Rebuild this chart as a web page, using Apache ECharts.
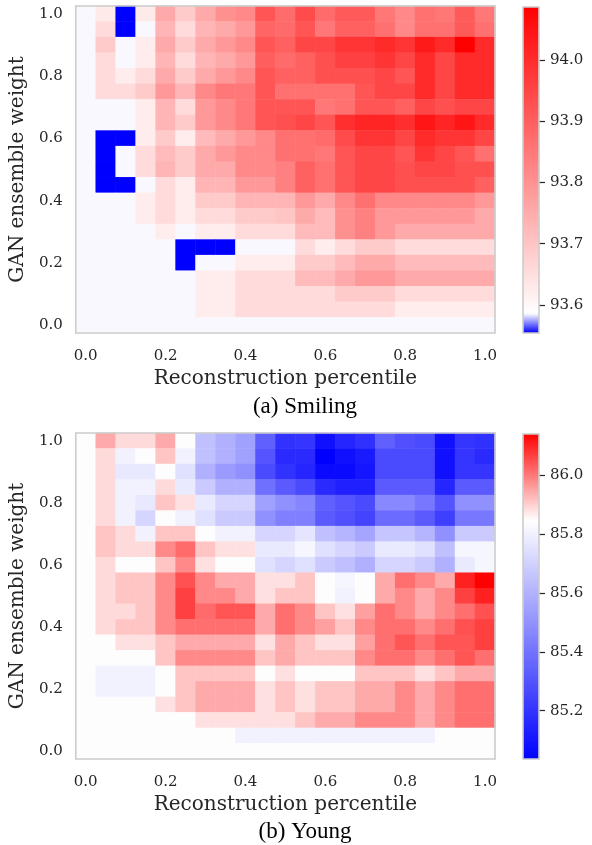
<!DOCTYPE html>
<html><head><meta charset="utf-8">
<script src="https://cdn.jsdelivr.net/npm/echarts@6/dist/echarts.min.js"></script>
<style>html,body{margin:0;padding:0;background:#fff}#c{width:592px;height:845px}</style>
</head><body><div id="c"></div>
<script>
// ---------------- data ----------------
const xCategories = ['0.00','0.05','0.10','0.15','0.20','0.25','0.30','0.35','0.40','0.45','0.50','0.55','0.60','0.65','0.70','0.75','0.80','0.85','0.90','0.95','1.00'];
const yCategories = ['0.00','0.05','0.10','0.15','0.20','0.25','0.30','0.35','0.40','0.45','0.50','0.55','0.60','0.65','0.70','0.75','0.80','0.85','0.90','0.95','1.00'];
const axisTickLabels = ['0.0','0.2','0.4','0.6','0.8','1.0'];

const smilingTicks = [93.6, 93.7, 93.8, 93.9, 94.0];
const smilingMin = 93.554, smilingCenter = 93.586, smilingMax = 94.087;
const youngTicks = [85.2, 85.4, 85.6, 85.8, 86.0];
const youngMin = 85.036, youngCenter = 85.845, youngMax = 86.140;

// rows listed from GAN weight 1.00 (top) down to 0.00 (bottom); columns = percentile 0.00..1.00
const smilingRows = [
 [93.586,93.628,93.554,93.628,93.753,93.690,93.753,93.804,93.820,93.920,93.875,93.941,93.879,93.910,93.910,93.853,93.820,93.867,93.853,93.910,93.853],
 [93.586,93.658,93.554,93.586,93.732,93.658,93.732,93.753,93.787,93.888,93.879,93.920,93.853,93.899,93.899,93.867,93.820,93.867,93.867,93.910,93.867],
 [93.586,93.690,93.586,93.620,93.753,93.690,93.753,93.787,93.820,93.920,93.899,93.951,93.951,93.983,93.983,94.005,93.983,94.035,94.005,94.087,94.005],
 [93.586,93.658,93.586,93.620,93.732,93.658,93.732,93.753,93.787,93.902,93.879,93.899,93.930,93.961,93.961,93.983,93.951,94.005,93.951,94.005,94.005],
 [93.586,93.658,93.620,93.658,93.753,93.690,93.753,93.787,93.820,93.920,93.899,93.899,93.930,93.930,93.930,93.951,93.920,94.005,93.951,94.005,94.005],
 [93.586,93.658,93.658,93.690,93.787,93.732,93.820,93.853,93.853,93.920,93.867,93.867,93.867,93.867,93.920,93.951,93.951,94.005,93.951,94.005,94.005],
 [93.586,93.586,93.586,93.620,93.732,93.658,93.787,93.820,93.853,93.920,93.920,93.920,93.853,93.867,93.920,93.920,93.899,93.951,93.930,93.951,93.951],
 [93.586,93.586,93.586,93.620,93.732,93.690,93.787,93.820,93.853,93.920,93.930,93.951,93.920,93.993,94.015,94.015,93.993,94.046,94.015,94.046,94.005],
 [93.586,93.554,93.554,93.620,93.690,93.620,93.720,93.753,93.787,93.820,93.867,93.867,93.879,93.941,93.983,93.983,93.951,94.005,93.983,93.983,93.951],
 [93.586,93.554,93.586,93.658,93.720,93.690,93.753,93.787,93.820,93.820,93.867,93.867,93.853,93.920,93.951,93.951,93.920,93.983,93.951,93.920,93.867],
 [93.586,93.554,93.586,93.658,93.732,93.690,93.753,93.753,93.820,93.820,93.836,93.899,93.867,93.920,93.951,93.951,93.930,93.951,93.951,93.930,93.930],
 [93.586,93.554,93.554,93.586,93.658,93.620,93.732,93.732,93.787,93.787,93.836,93.899,93.867,93.920,93.951,93.951,93.930,93.930,93.930,93.930,93.899],
 [93.586,93.586,93.586,93.620,93.658,93.620,93.690,93.690,93.732,93.732,93.732,93.787,93.753,93.820,93.867,93.820,93.820,93.820,93.820,93.820,93.787],
 [93.586,93.586,93.586,93.620,93.658,93.620,93.658,93.658,93.690,93.690,93.700,93.753,93.720,93.804,93.836,93.787,93.787,93.787,93.787,93.787,93.753],
 [93.586,93.586,93.586,93.586,93.620,93.586,93.620,93.620,93.658,93.658,93.658,93.720,93.720,93.804,93.836,93.787,93.753,93.753,93.753,93.753,93.753],
 [93.586,93.586,93.586,93.586,93.586,93.554,93.554,93.554,93.586,93.586,93.586,93.658,93.620,93.658,93.690,93.690,93.658,93.658,93.658,93.658,93.658],
 [93.586,93.586,93.586,93.586,93.586,93.554,93.586,93.586,93.620,93.620,93.620,93.690,93.690,93.720,93.753,93.753,93.720,93.720,93.720,93.720,93.720],
 [93.586,93.586,93.586,93.586,93.586,93.586,93.620,93.620,93.658,93.658,93.658,93.720,93.720,93.753,93.787,93.787,93.753,93.753,93.753,93.753,93.753],
 [93.586,93.586,93.586,93.586,93.586,93.586,93.620,93.620,93.658,93.658,93.658,93.658,93.658,93.690,93.690,93.690,93.658,93.658,93.658,93.658,93.658],
 [93.586,93.586,93.586,93.586,93.586,93.586,93.620,93.620,93.658,93.658,93.658,93.658,93.658,93.658,93.658,93.658,93.620,93.620,93.620,93.620,93.620],
 [93.586,93.586,93.586,93.586,93.586,93.586,93.586,93.586,93.586,93.586,93.586,93.586,93.586,93.586,93.586,93.586,93.586,93.586,93.586,93.586,93.586]
];

const youngRows = [
 [85.845,85.943,85.888,85.888,85.943,85.845,85.645,85.594,85.544,85.340,85.196,85.204,85.087,85.153,85.188,85.340,85.290,85.271,85.087,85.204,85.188],
 [85.845,85.888,85.804,85.845,85.912,85.804,85.645,85.594,85.544,85.306,85.169,85.169,85.036,85.087,85.118,85.271,85.271,85.271,85.087,85.204,85.169],
 [85.845,85.888,85.772,85.772,85.845,85.746,85.594,85.525,85.493,85.271,85.196,85.153,85.068,85.068,85.102,85.271,85.271,85.271,85.087,85.204,85.204],
 [85.845,85.888,85.804,85.804,85.888,85.779,85.677,85.594,85.594,85.391,85.322,85.271,85.169,85.137,85.137,85.322,85.322,85.322,85.153,85.322,85.322],
 [85.845,85.888,85.804,85.772,85.912,85.881,85.779,85.712,85.712,85.544,85.493,85.458,85.340,85.306,85.271,85.468,85.468,85.414,85.306,85.493,85.493],
 [85.845,85.888,85.804,85.712,85.845,85.804,85.746,85.677,85.677,85.493,85.441,85.441,85.322,85.290,85.252,85.373,85.373,85.322,85.236,85.414,85.414],
 [85.845,85.912,85.888,85.804,85.912,85.912,85.845,85.804,85.804,85.712,85.712,85.763,85.645,85.610,85.560,85.661,85.661,85.610,85.493,85.677,85.677],
 [85.845,85.912,85.888,85.888,85.983,86.017,85.912,85.881,85.881,85.779,85.779,85.814,85.746,85.712,85.677,85.779,85.779,85.746,85.645,85.814,85.814],
 [85.845,85.888,85.845,85.845,85.912,85.983,85.881,85.845,85.845,85.746,85.712,85.746,85.677,85.645,85.594,85.712,85.712,85.677,85.594,85.779,85.814],
 [85.845,85.888,85.912,85.912,85.983,86.047,85.983,85.943,85.943,85.881,85.881,85.912,85.845,85.814,85.845,85.943,86.011,85.983,85.943,86.103,86.140],
 [85.845,85.888,85.912,85.912,85.983,86.066,85.983,85.983,85.943,85.881,85.912,85.912,85.845,85.804,85.845,85.943,85.983,85.943,85.983,86.066,86.103],
 [85.845,85.888,85.888,85.912,85.983,86.066,86.017,86.042,86.042,85.943,86.011,85.983,85.912,85.881,85.955,86.011,85.983,85.943,85.983,86.011,86.047],
 [85.845,85.888,85.912,85.912,85.983,86.011,86.011,86.011,86.011,85.943,86.011,85.983,85.955,85.912,85.983,86.011,86.011,85.983,86.011,86.047,86.066],
 [85.845,85.845,85.881,85.881,85.912,85.943,85.943,85.943,85.943,85.881,85.943,85.912,85.881,85.881,85.955,86.011,86.042,86.011,86.042,86.042,86.066],
 [85.845,85.845,85.845,85.845,85.912,85.983,85.983,85.983,85.983,85.912,85.943,85.912,85.912,85.912,85.983,86.011,86.011,85.983,86.011,86.042,86.011],
 [85.845,85.804,85.804,85.804,85.845,85.912,85.912,85.912,85.912,85.845,85.881,85.845,85.845,85.845,85.912,85.912,85.912,85.881,85.912,85.943,85.943],
 [85.845,85.804,85.804,85.804,85.845,85.912,85.943,85.943,85.943,85.881,85.912,85.881,85.912,85.912,85.943,85.943,85.983,85.943,85.983,86.011,86.011],
 [85.845,85.845,85.845,85.845,85.881,85.912,85.943,85.943,85.943,85.881,85.912,85.881,85.912,85.912,85.943,85.943,85.983,85.943,85.983,86.011,86.011],
 [85.845,85.845,85.845,85.845,85.845,85.845,85.881,85.881,85.881,85.881,85.881,85.912,85.943,85.943,85.983,85.983,85.983,85.943,85.983,86.011,86.011],
 [85.845,85.845,85.845,85.845,85.845,85.845,85.845,85.845,85.804,85.804,85.804,85.804,85.804,85.804,85.804,85.804,85.804,85.804,85.845,85.845,85.845],
 [85.845,85.845,85.845,85.845,85.845,85.845,85.845,85.845,85.845,85.845,85.845,85.845,85.845,85.845,85.845,85.845,85.845,85.845,85.845,85.845,85.845]
];

// ---------------- styling helpers ----------------
const TXT = '#262626';
const SERIF = "'DejaVu Serif', serif";
const FRAME = '#cccccc';

function bwrAt(v, lo, mid, hi) {
  let t = v < mid ? 0.5 * (v - lo) / (mid - lo) : 0.5 + 0.5 * (v - mid) / (hi - mid);
  t = Math.max(0, Math.min(1, t));
  let r, g, b;
  if (t < 0.5) { r = g = Math.round(2 * t * 255); b = 255; }
  else { r = 255; g = b = Math.round((2 - 2 * t) * 255); }
  return 'rgb(' + r + ',' + g + ',' + b + ')';
}
function colorList(lo, mid, hi, n) {
  const out = [];
  for (let i = 0; i <= n; i++) out.push(bwrAt(lo + (hi - lo) * i / n, lo, mid, hi));
  return out;
}
function gradientStops(lo, mid, hi, n) {
  const out = [];
  for (let i = 0; i <= n; i++) out.push({ offset: i / n, color: bwrAt(lo + (hi - lo) * i / n, lo, mid, hi) });
  return out;
}
function toCells(rows) {
  const data = [];
  const n = rows.length;
  rows.forEach((row, r) => row.forEach((v, c) => data.push([c, n - 1 - r, v])));
  return data;
}

const chart = echarts.init(document.getElementById('c'), null, { renderer: 'canvas' });

const heatGrids = [
  { left: 75, top: 6, width: 420, height: 327 },
  { left: 75, top: 433, width: 420, height: 326 }
];
const cbGrids = [
  { left: 523, top: 7, width: 16, height: 326 },
  { left: 523, top: 434, width: 16, height: 325 }
];

function heatX(gi) {
  return {
    type: 'category', gridIndex: gi, data: xCategories, position: 'bottom',
    axisLine: { show: false }, axisTick: { show: false }, splitLine: { show: false },
    axisLabel: { interval: 3, margin: 16, fontSize: 15, fontFamily: SERIF, color: TXT,
      formatter: (v, i) => axisTickLabels[i / 4] },
    name: 'Reconstruction percentile', nameLocation: 'middle', nameGap: 36,
    nameTextStyle: { fontSize: 20, fontFamily: SERIF, color: TXT }
  };
}
function heatY(gi) {
  return {
    type: 'category', gridIndex: gi, data: yCategories, position: 'left',
    axisLine: { show: false }, axisTick: { show: false }, splitLine: { show: false },
    axisLabel: { interval: 3, margin: 13, fontSize: 15, fontFamily: SERIF, color: TXT,
      formatter: (v, i) => axisTickLabels[i / 4] },
    name: 'GAN ensemble weight', nameLocation: 'middle', nameGap: 46, nameRotate: 90,
    nameTextStyle: { fontSize: 20, fontFamily: SERIF, color: TXT }
  };
}
function cbX(gi) {
  return { type: 'category', gridIndex: gi, data: ['cb'], show: false };
}
function cbY(gi, lo, hi, ticks) {
  return {
    type: 'value', gridIndex: gi, min: lo, max: hi, position: 'right',
    axisLine: { show: false }, splitLine: { show: false },
    axisTick: { show: true, customValues: ticks, length: 6, lineStyle: { color: TXT, width: 1.2 } },
    axisLabel: { show: true, customValues: ticks, margin: 11, fontSize: 15, fontFamily: SERIF, color: TXT,
      formatter: v => Number(v).toFixed(1) }
  };
}
function cbSeries(idx, lo, mid, hi) {
  return {
    type: 'custom', xAxisIndex: idx, yAxisIndex: idx, silent: true, z: 2,
    data: [[0, hi]],
    renderItem: function (params, api) {
      const top = api.coord([0, hi]);
      const bot = api.coord([0, lo]);
      const w = api.size([1, 0])[0];
      return {
        type: 'rect',
        shape: { x: top[0] - w / 2, y: top[1], width: w, height: bot[1] - top[1] },
        style: { fill: new echarts.graphic.LinearGradient(0, 1, 0, 0, gradientStops(lo, mid, hi, 160)) }
      };
    }
  };
}

const option = {
  backgroundColor: '#ffffff',
  animation: false,
  title: [
    { text: '(a) Smiling', left: 300, top: 390, textAlign: 'center',
      textStyle: { fontSize: 23, fontWeight: 'normal', fontFamily: "'Liberation Serif', serif", color: '#000' } },
    { text: '(b) Young', left: 300, top: 815, textAlign: 'center',
      textStyle: { fontSize: 23, fontWeight: 'normal', fontFamily: "'Liberation Serif', serif", color: '#000' } }
  ],
  grid: [
    Object.assign({ show: true, borderColor: FRAME, borderWidth: 1.6, z: 5, backgroundColor: 'transparent' }, heatGrids[0]),
    Object.assign({ show: true, borderColor: FRAME, borderWidth: 1.6, z: 5, backgroundColor: 'transparent' }, heatGrids[1]),
    Object.assign({ show: true, borderColor: FRAME, borderWidth: 1.6, z: 5, backgroundColor: 'transparent' }, cbGrids[0]),
    Object.assign({ show: true, borderColor: FRAME, borderWidth: 1.6, z: 5, backgroundColor: 'transparent' }, cbGrids[1])
  ],
  xAxis: [heatX(0), heatX(1), cbX(2), cbX(3)],
  yAxis: [heatY(0), heatY(1), cbY(2, smilingMin, smilingMax, smilingTicks), cbY(3, youngMin, youngMax, youngTicks)],
  visualMap: [
    { type: 'continuous', show: false, seriesIndex: 0, dimension: 2, min: smilingMin, max: smilingMax,
      inRange: { color: colorList(smilingMin, smilingCenter, smilingMax, 160) } },
    { type: 'continuous', show: false, seriesIndex: 1, dimension: 2, min: youngMin, max: youngMax,
      inRange: { color: colorList(youngMin, youngCenter, youngMax, 160) } }
  ],
  series: [
    { type: 'heatmap', xAxisIndex: 0, yAxisIndex: 0, data: toCells(smilingRows), silent: true, z: 2 },
    { type: 'heatmap', xAxisIndex: 1, yAxisIndex: 1, data: toCells(youngRows), silent: true, z: 2 },
    cbSeries(2, smilingMin, smilingCenter, smilingMax),
    cbSeries(3, youngMin, youngCenter, youngMax)
  ]
};
chart.setOption(option);
</script>
</body></html>
